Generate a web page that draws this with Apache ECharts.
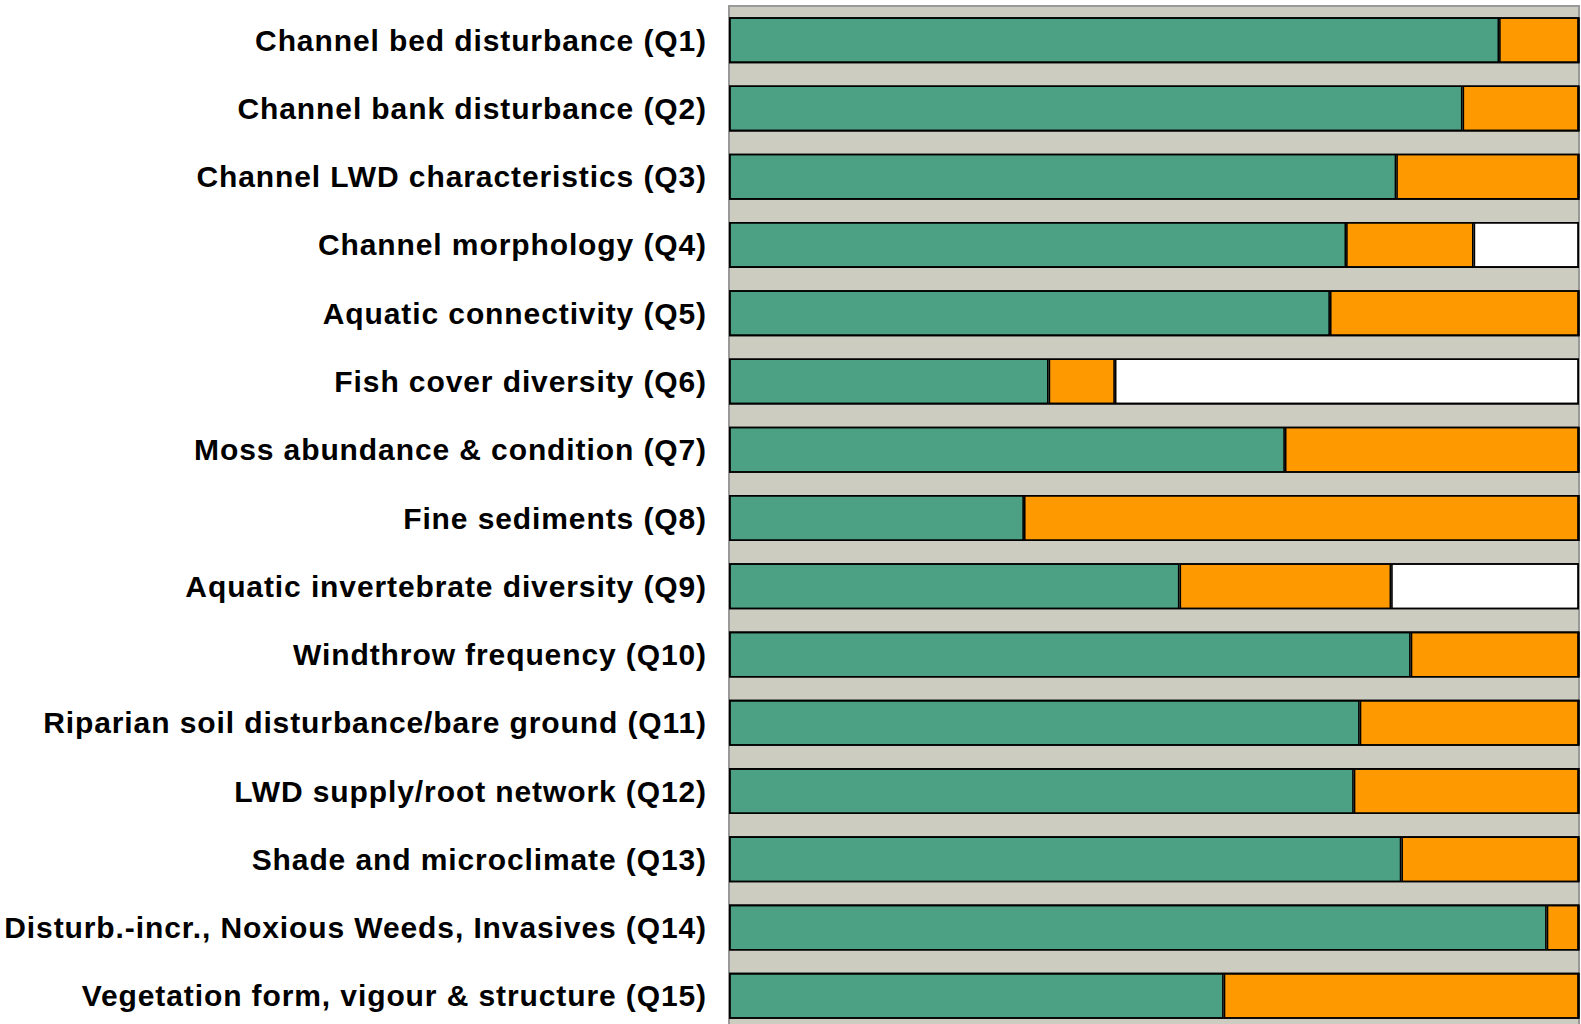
<!DOCTYPE html>
<html>
<head>
<meta charset="utf-8">
<script src="https://cdn.jsdelivr.net/npm/echarts@6/dist/echarts.min.js"></script>
<style>
html,body{margin:0;padding:0;background:#fff;overflow:hidden;}
#chart{width:1581px;height:1030px;}
#chart svg text{letter-spacing:0.9px;}
</style>
</head>
<body>
<div id="chart"></div>
<script>
const categories = [
  "Channel bed disturbance (Q1)",
  "Channel bank disturbance (Q2)",
  "Channel LWD characteristics (Q3)",
  "Channel morphology (Q4)",
  "Aquatic connectivity (Q5)",
  "Fish cover diversity (Q6)",
  "Moss abundance & condition (Q7)",
  "Fine sediments (Q8)",
  "Aquatic invertebrate diversity (Q9)",
  "Windthrow frequency (Q10)",
  "Riparian soil disturbance/bare ground (Q11)",
  "LWD supply/root network (Q12)",
  "Shade and microclimate (Q13)",
  "Disturb.-incr., Noxious Weeds, Invasives (Q14)",
  "Vegetation form, vigour & structure (Q15)"
];
const greenValues  = [90.6, 86.3, 78.5, 72.6, 70.7, 37.6, 65.4, 34.7, 53.0, 80.2, 74.2, 73.5, 79.1, 96.2, 58.2];
const orangeValues = [9.4, 13.7, 21.5, 15.0, 29.3, 7.8, 34.6, 65.3, 24.9, 19.8, 25.8, 26.5, 20.9, 3.8, 41.8];
const whiteValues  = [0, 0, 0, 12.4, 0, 54.6, 0, 0, 22.1, 0, 0, 0, 0, 0, 0];
const totalValues = greenValues.map((g, i) => g + orangeValues[i] + whiteValues[i]);

const chart = echarts.init(document.getElementById('chart'), null, { renderer: 'svg' });
const BW = 46;
const seriesStyle = (color) => ({
  color: color,
  borderColor: '#000',
  borderWidth: 1.6
});
chart.setOption({
  animation: false,
  grid: {
    left: 729, right: 2, top: 6, height: 1024,
    show: true,
    backgroundColor: '#CCCCC0',
    borderColor: '#999999',
    borderWidth: 2,
    containLabel: false
  },
  xAxis: {
    type: 'value', min: 0, max: 100,
    show: false
  },
  yAxis: {
    type: 'category',
    inverse: true,
    data: categories,
    axisLine: { show: false },
    axisTick: { show: false },
    splitLine: { show: false },
    axisLabel: {
      margin: 22,
      fontSize: 30,
      fontWeight: 'bold',
      color: '#000',
      padding: [0, 0, 4, 0],
      fontFamily: 'Liberation Sans, Arial, sans-serif'
    }
  },
  series: [
    { type: 'bar', stack: 'a', data: greenValues, barWidth: BW, itemStyle: seriesStyle('#4CA084') },
    { type: 'bar', stack: 'a', data: orangeValues, barWidth: BW, itemStyle: seriesStyle('#FF9900') },
    { type: 'bar', stack: 'a', data: whiteValues, barWidth: BW, itemStyle: seriesStyle('#FFFFFF') },
    { type: 'bar', data: totalValues, barWidth: BW, barGap: '-100%', silent: true,
      itemStyle: { color: 'rgba(0,0,0,0)', borderColor: '#000', borderWidth: 1.6 } }
  ]
});
</script>
</body>
</html>
